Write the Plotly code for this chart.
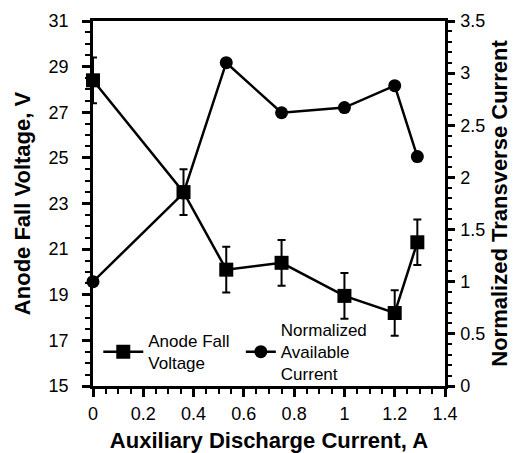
import plotly.graph_objects as go

# Auxiliary discharge current, A
aux_current = [0.0, 0.36, 0.53, 0.75, 1.0, 1.2, 1.29]
# Anode fall voltage, V, with its uncertainty
anode_fall = [28.4, 23.5, 20.1, 20.4, 18.95, 18.2, 21.3]
anode_err = [1.0, 1.0, 1.0, 1.0, 1.0, 1.0, 1.0]
# Normalized available (transverse) current
norm_current = [1.0, 1.85, 3.1, 2.62, 2.67, 2.88, 2.2]

FONT = "Liberation Sans, Arial, Helvetica, sans-serif"
BLACK = "#000000"

fig = go.Figure()

fig.add_trace(go.Scatter(
    x=aux_current, y=norm_current, yaxis="y",
    name="Normalized<br>Available<br>Current",
    mode="lines+markers",
    line=dict(color=BLACK, width=2.5),
    marker=dict(symbol="circle", size=13, color=BLACK),
    cliponaxis=False, legend="legend2",
))

fig.add_trace(go.Scatter(
    x=aux_current, y=anode_fall, yaxis="y2",
    name="Anode Fall<br>Voltage",
    mode="lines+markers",
    line=dict(color=BLACK, width=2.5),
    marker=dict(symbol="square", size=14, color=BLACK),
    error_y=dict(type="data", array=anode_err, visible=True,
                 color=BLACK, thickness=2, width=4),
    cliponaxis=False, legend="legend",
))

tick_font = dict(family=FONT, size=18, color=BLACK)
title_font = dict(family=FONT, size=22, color=BLACK, weight="bold")
legend_font = dict(family=FONT, size=17, color=BLACK)

fig.update_layout(
    width=518, height=453,
    margin=dict(l=93, r=73, t=21, b=67),
    paper_bgcolor="white", plot_bgcolor="white",
    font=dict(family=FONT, color=BLACK),
    xaxis=dict(
        range=[0, 1.4], dtick=0.2, tick0=0, automargin=False,
        showline=True, linecolor=BLACK, linewidth=2.5, mirror=True,
        ticks="outside", ticklen=8, tickwidth=2.5, tickcolor=BLACK,
        minor=dict(dtick=0.05, ticks="outside", ticklen=5, tickwidth=2, tickcolor=BLACK),
        showgrid=False, zeroline=False,
        tickfont=tick_font, ticklabelstandoff=2,
        title=dict(text="Auxiliary Discharge Current, A", font=title_font, standoff=12),
    ),
    yaxis=dict(
        range=[0, 3.5], dtick=0.5, tick0=0, side="right", automargin=False,
        showline=True, linecolor=BLACK, linewidth=2.5,
        ticks="outside", ticklen=7, tickwidth=2.5, tickcolor=BLACK,
        minor=dict(dtick=0.1, ticks="outside", ticklen=4, tickwidth=2, tickcolor=BLACK),
        showgrid=False, zeroline=False,
        tickfont=tick_font, ticklabelstandoff=2,
        title=dict(text="Normalized Transverse Current", font=title_font, standoff=8),
    ),
    yaxis2=dict(
        range=[15, 31], dtick=2, tick0=15, side="left", overlaying="y", automargin=False,
        showline=True, linecolor=BLACK, linewidth=2.5,
        ticks="outside", ticklen=8, tickwidth=2.5, tickcolor=BLACK,
        minor=dict(dtick=0.5, ticks="outside", ticklen=5, tickwidth=2, tickcolor=BLACK),
        showgrid=False, zeroline=False,
        tickfont=tick_font, ticklabelstandoff=10,
        title=dict(text="Anode Fall Voltage, V", font=title_font, standoff=12),
    ),
    legend=dict(
        x=0.015, y=0.093, xanchor="left", yanchor="middle", itemwidth=40,
        bgcolor="rgba(0,0,0,0)", font=legend_font, valign="middle",
    ),
    legend2=dict(
        x=0.42, y=0.093, xanchor="left", yanchor="middle",
        bgcolor="rgba(0,0,0,0)", font=legend_font, valign="middle",
    ),
    showlegend=True,
)

fig.write_html("out.html")
